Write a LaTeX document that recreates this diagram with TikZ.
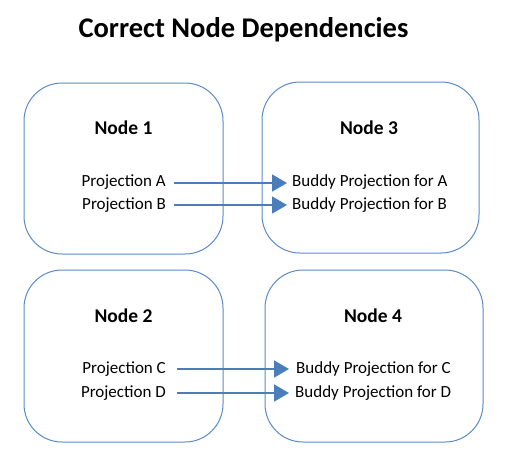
\documentclass[tikz,border=0pt]{standalone}
\usepackage{fontspec}
\setmainfont{Carlito}
\usetikzlibrary{arrows.meta}
\definecolor{boxblue}{HTML}{5B8BC9}
\definecolor{arrblue}{HTML}{4A7EBB}
\begin{document}
\begin{tikzpicture}[x=1pt,y=-1pt,
  box/.style={draw=boxblue,line width=1pt,rounded corners=38pt},
  head/.style={font=\fontsize{19.5}{22}\selectfont\bfseries,inner sep=0pt},
  lbl/.style={font=\fontsize{17}{19}\selectfont,inner sep=0pt},
  dep/.style={draw=arrblue,line width=1.8pt,-{Triangle[length=15pt,width=17pt]},shorten >=1pt}]
\useasboundingbox (0,0) rectangle (511,467);
\node[font=\fontsize{28.5}{32}\selectfont\bfseries,inner sep=0pt] (title) at (243.5,30) {Correct Node Dependencies};
\draw[box] (24,83) rectangle (223,254);
\draw[box] (262,82) rectangle (479,253);
\draw[box] (24,270) rectangle (223,442);
\draw[box] (265,270) rectangle (483,442);
\node[head] (n1) at (123.5,128) {Node 1};
\node[head] (n3) at (369,128) {Node 3};
\node[head] (n2) at (123.5,316) {Node 2};
\node[head] (n4) at (373,316) {Node 4};
\node[lbl,anchor=east] (pa) at (166,182) {Projection A};
\node[lbl,anchor=east] (pb) at (166,205) {Projection B};
\node[lbl,anchor=west] (ba) at (292,182) {Buddy Projection for A};
\node[lbl,anchor=west] (bb) at (292,205) {Buddy Projection for B};
\node[lbl,anchor=east] (pc) at (166,369) {Projection C};
\node[lbl,anchor=east] (pd) at (166,393) {Projection D};
\node[lbl,anchor=west] (bc) at (296,369) {Buddy Projection for C};
\node[lbl,anchor=west] (bd) at (295,393) {Buddy Projection for D};
\coordinate (sa) at (174,183); \coordinate (ta) at (288,183);
\coordinate (sb) at (174,205); \coordinate (tb) at (288,205);
\coordinate (sc) at (177,369); \coordinate (tc) at (290,369);
\coordinate (sd) at (177,393); \coordinate (td) at (290,393);
\draw[dep] (sa) -- (ta);
\draw[dep] (sb) -- (tb);
\draw[dep] (sc) -- (tc);
\draw[dep] (sd) -- (td);
\end{tikzpicture}
\end{document}
